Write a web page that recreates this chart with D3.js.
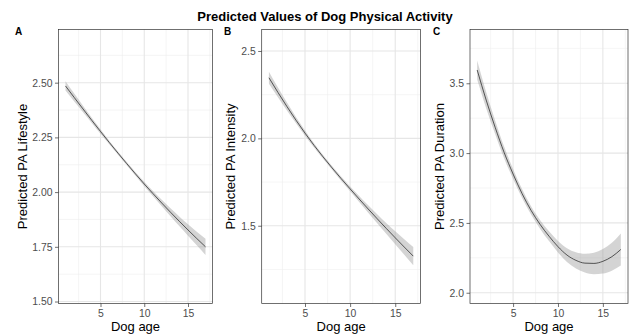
<!DOCTYPE html>
<html>
<head>
<meta charset="utf-8">
<script src="https://cdn.jsdelivr.net/npm/d3@7"></script>
<style>
  body { margin: 0; background: #fff; }
  text { font-family: "Liberation Sans", Arial, sans-serif; }
</style>
</head>
<body>
<div id="chart"></div>
<script>
var ages = [1, 2, 3, 4, 5, 6, 7, 8, 9, 10, 11, 12, 13, 14, 15, 16, 17];

// predicted values and half width of the confidence band
var fitA = [2.485, 2.432, 2.380, 2.328, 2.277, 2.227, 2.178, 2.130, 2.083, 2.037, 1.993, 1.950, 1.908, 1.867, 1.827, 1.788, 1.750];
var ciA = [0.021, 0.018, 0.015, 0.012, 0.010, 0.008, 0.007, 0.007, 0.008, 0.010, 0.012, 0.015, 0.018, 0.022, 0.026, 0.031, 0.037];

var fitB = [2.347, 2.263, 2.182, 2.104, 2.030, 1.960, 1.894, 1.831, 1.770, 1.711, 1.653, 1.596, 1.540, 1.485, 1.431, 1.378, 1.326];
var ciB = [0.034, 0.028, 0.023, 0.018, 0.015, 0.012, 0.011, 0.011, 0.012, 0.014, 0.017, 0.021, 0.026, 0.031, 0.037, 0.044, 0.052];

var fitC = [3.595, 3.380, 3.185, 3.005, 2.850, 2.710, 2.590, 2.490, 2.405, 2.330, 2.270, 2.232, 2.212, 2.210, 2.225, 2.258, 2.310];
var ciC = [0.068, 0.058, 0.049, 0.042, 0.036, 0.032, 0.030, 0.031, 0.035, 0.041, 0.049, 0.058, 0.067, 0.077, 0.088, 0.100, 0.114];

var xTicks = [5, 10, 15];
var xMinor = [2.5, 7.5, 12.5, 17.5];
var yTicksA = [1.50, 1.75, 2.00, 2.25, 2.50];
var yMinorA = [1.625, 1.875, 2.125, 2.375, 2.625];
var yTicksB = [1.5, 2.0, 2.5];
var yMinorB = [1.25, 1.75, 2.25];
var yTicksC = [2.0, 2.5, 3.0, 3.5];
var yMinorC = [2.25, 2.75, 3.25, 3.75];

var yTitles = ["Predicted PA Lifestyle", "Predicted PA Intensity", "Predicted PA Duration"];
var panelLabels = ["A", "B", "C"];
var mainTitle = "Predicted Values of Dog Physical Activity";

var width = 629, height = 336;
var panelTop = 29.5, panelBottom = 303.5;

var svg = d3.select('#chart')
  .append('svg')
  .attr('width', width)
  .attr('height', height);

svg.append('text')
  .attr('x', 325)
  .attr('y', 20.5)
  .attr('text-anchor', 'middle')
  .attr('font-size', 13)
  .attr('font-weight', 'bold')
  .attr('fill', '#000')
  .text(mainTitle);

var panels = [
  { left: 58.5, right: 212.5, yDomain: [1.491, 2.743], yTicks: yTicksA, yMinor: yMinorA, fmt: '.2f',
    fit: fitA, ci: ciA, titleX: 26.5, labelX: 15 },
  { left: 261.7, right: 420.5, yDomain: [1.055, 2.623], yTicks: yTicksB, yMinor: yMinorB, fmt: '.1f',
    fit: fitB, ci: ciB, titleX: 234.5, labelX: 224 },
  { left: 470, right: 628, yDomain: [1.923, 3.885], yTicks: yTicksC, yMinor: yMinorC, fmt: '.1f',
    fit: fitC, ci: ciC, titleX: 443.5, labelX: 433 }
];

panels.forEach(function(p, i) {
  var x = d3.scaleLinear().domain([0.2, 17.8]).range([p.left, p.right]);
  var y = d3.scaleLinear().domain(p.yDomain).range([panelBottom, panelTop]);

  var g = svg.append('g');

  // grid
  g.selectAll('.minx').data(xMinor.filter(function(d) { return d < 17.8; }))
    .enter().append('line')
    .attr('x1', function(d) { return x(d); }).attr('x2', function(d) { return x(d); })
    .attr('y1', panelTop).attr('y2', panelBottom)
    .attr('stroke', '#efefef').attr('stroke-width', 0.6);
  g.selectAll('.miny').data(p.yMinor.filter(function(d) { return d > p.yDomain[0] && d < p.yDomain[1]; }))
    .enter().append('line')
    .attr('x1', p.left).attr('x2', p.right)
    .attr('y1', function(d) { return y(d); }).attr('y2', function(d) { return y(d); })
    .attr('stroke', '#efefef').attr('stroke-width', 0.6);
  g.selectAll('.majx').data(xTicks)
    .enter().append('line')
    .attr('x1', function(d) { return x(d); }).attr('x2', function(d) { return x(d); })
    .attr('y1', panelTop).attr('y2', panelBottom)
    .attr('stroke', '#e6e6e6').attr('stroke-width', 1.1);
  g.selectAll('.majy').data(p.yTicks)
    .enter().append('line')
    .attr('x1', p.left).attr('x2', p.right)
    .attr('y1', function(d) { return y(d); }).attr('y2', function(d) { return y(d); })
    .attr('stroke', '#e6e6e6').attr('stroke-width', 1.1);

  var rows = ages.map(function(a, j) {
    return { age: a, fit: p.fit[j], lo: p.fit[j] - p.ci[j], hi: p.fit[j] + p.ci[j] };
  });

  var area = d3.area()
    .curve(d3.curveMonotoneX)
    .x(function(d) { return x(d.age); })
    .y0(function(d) { return y(d.lo); })
    .y1(function(d) { return y(d.hi); });

  var line = d3.line()
    .curve(d3.curveMonotoneX)
    .x(function(d) { return x(d.age); })
    .y(function(d) { return y(d.fit); });

  g.append('path')
    .attr('d', area(rows))
    .attr('fill', '#999999')
    .attr('fill-opacity', 0.42);

  g.append('path')
    .attr('d', line(rows))
    .attr('fill', 'none')
    .attr('stroke', '#1a1a1a')
    .attr('stroke-width', 0.7);

  // border
  g.append('rect')
    .attr('x', p.left).attr('y', panelTop)
    .attr('width', p.right - p.left).attr('height', panelBottom - panelTop)
    .attr('fill', 'none')
    .attr('stroke', '#333333')
    .attr('stroke-width', 0.7);

  // axes
  var yAxis = d3.axisLeft(y).tickValues(p.yTicks).tickSize(3.5).tickPadding(2.5)
    .tickFormat(d3.format(p.fmt));
  var ya = g.append('g').attr('transform', 'translate(' + p.left + ',0)').call(yAxis);

  var xAxis = d3.axisBottom(x).tickValues(xTicks).tickSize(3.5).tickPadding(2.5)
    .tickFormat(d3.format('d'));
  var xa = g.append('g').attr('transform', 'translate(0,' + panelBottom + ')').call(xAxis);

  [ya, xa].forEach(function(ax) {
    ax.select('.domain').remove();
    ax.selectAll('line').attr('stroke', '#333333').attr('stroke-width', 0.7);
    ax.selectAll('text')
      .attr('fill', '#4d4d4d')
      .attr('font-size', 10.4)
      .attr('font-family', '"Liberation Sans", Arial, sans-serif');
  });

  // axis titles
  g.append('text')
    .attr('x', (p.left + p.right) / 2)
    .attr('y', 331)
    .attr('text-anchor', 'middle')
    .attr('font-size', 13)
    .attr('fill', '#000')
    .text('Dog age');

  g.append('text')
    .attr('transform', 'translate(' + p.titleX + ',' + ((panelTop + panelBottom) / 2) + ') rotate(-90)')
    .attr('text-anchor', 'middle')
    .attr('font-size', 13)
    .attr('fill', '#000')
    .text(yTitles[i]);

  g.append('text')
    .attr('x', p.labelX)
    .attr('y', 34.5)
    .attr('font-size', 10)
    .attr('font-weight', 'bold')
    .attr('fill', '#000')
    .text(panelLabels[i]);
});
</script>
</body>
</html>
